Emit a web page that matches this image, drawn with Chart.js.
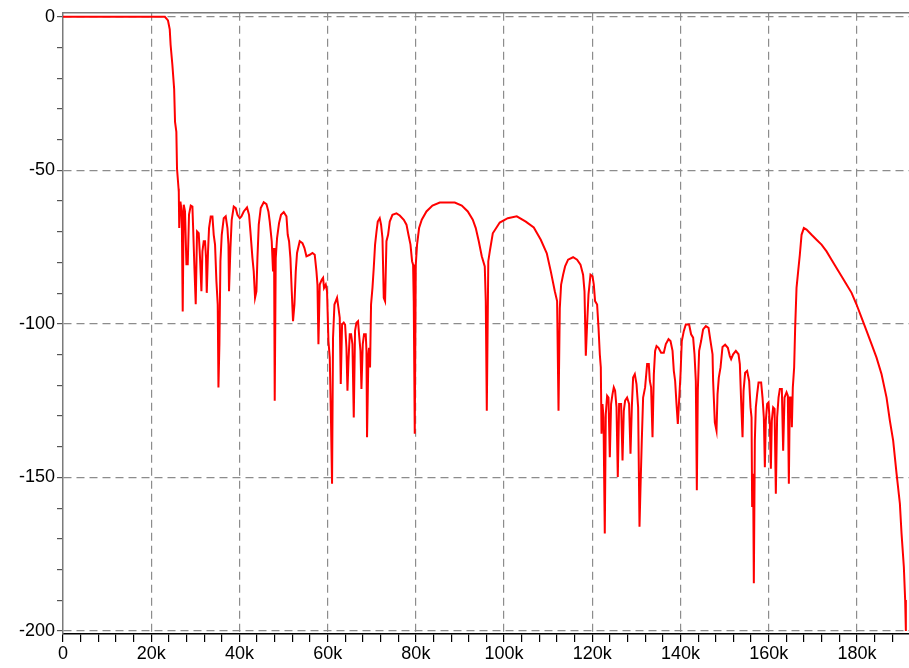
<!DOCTYPE html>
<html lang="en">

<head>
    <meta charset="UTF-8">
    <title>Frequency response</title>
    <script src="https://cdn.jsdelivr.net/npm/chart.js"></script>
    <style>
        html, body { margin: 0; padding: 0; background: #fff; }
        canvas { display: block; }
    </style>
</head>

<body>
    <canvas id="respChart" width="909" height="668"></canvas>
    <script>
        // frequency in kHz
        const freq = [
            0, 22.8, 23.1, 23.8, 24.2, 24.4, 24.8, 25.2, 25.4, 25.7, 25.85, 26.2, 26.25, 26.35, 26.62, 26.92, 27.14, 27.37, 27.66, 27.98,
            28.28, 28.57, 28.96, 29.34, 29.48, 29.8, 30.09, 30.39, 30.77, 31.07, 31.38, 31.61, 31.9, 32.2, 32.43, 32.59, 32.88, 33.11, 33.49, 33.88,
            34.17, 34.47, 34.78, 35.08, 35.24, 35.46, 35.69, 35.99, 36.44, 36.89, 37.28, 37.51, 37.64, 37.96, 38.25, 38.71, 39.16, 39.55, 40.07, 40.45,
            40.98, 41.72, 42.18, 42.49, 42.95, 43.24, 43.54, 43.85, 44.08, 44.38, 44.83, 45.51, 46.12, 46.58, 46.87, 47.32, 47.62, 47.85, 48.0, 48.23,
            48.53, 48.98, 49.43, 50.05, 50.66, 50.95, 51.25, 51.56, 51.86, 52.15, 52.47, 52.77, 53.06, 53.67, 54.29, 54.74, 55.19, 55.94, 56.55, 57.07,
            57.46, 57.69, 57.91, 58.21, 58.66, 58.96, 59.18, 59.57, 59.86, 60.18, 60.48, 60.77, 61.0, 61.22, 61.54, 61.84, 62.13, 62.45, 62.74, 62.97,
            63.27, 63.65, 63.95, 64.26, 64.49, 64.72, 65.01, 65.31, 65.62, 65.92, 66.21, 66.53, 66.89, 67.12, 67.44, 67.66, 67.96, 68.25, 68.64, 68.8,
            68.93, 69.25, 69.39, 69.61, 69.84, 70.16, 70.45, 70.75, 71.07, 71.36, 71.81, 72.11, 72.43, 72.72, 73.02, 73.33, 73.7, 74.08, 74.69, 75.6,
            76.35, 77.26, 77.87, 78.32, 78.78, 79.14, 79.37, 79.52, 79.75, 79.98, 80.27, 80.73, 81.34, 82.4, 83.76, 85.42, 87.69, 88.82, 90.41, 91.77,
            92.9, 93.58, 94.26, 94.94, 95.62, 95.85, 96.08, 96.42, 96.76, 97.44, 99.02, 100.84, 102.88, 104.92, 106.73, 108.32, 109.68, 110.59, 111.5, 112.02,
            112.34, 112.63, 112.93, 113.38, 113.83, 114.51, 115.65, 116.55, 117.32, 117.91, 118.23, 118.53, 118.82, 119.14, 119.59, 120.05, 120.34, 120.63, 121.09, 121.41,
            121.7, 121.93, 122.09, 122.31, 122.54, 122.83, 123.06, 123.36, 123.67, 123.97, 124.26, 124.58, 124.87, 125.17, 125.49, 125.78, 126.08, 126.53, 126.85, 127.14,
            127.44, 127.89, 128.34, 128.66, 128.96, 129.25, 129.64, 130.02, 130.39, 130.7, 130.93, 131.22, 131.52, 131.97, 132.43, 132.81, 133.04, 133.33, 133.65, 133.95,
            134.24, 134.56, 135.01, 135.6, 136.21, 136.67, 137.28, 137.73, 138.19, 138.48, 138.78, 139.09, 139.39, 139.68, 140.0, 140.29, 140.75, 141.2, 141.95, 142.4,
            142.86, 143.17, 143.47, 143.7, 143.92, 144.22, 144.67, 145.12, 145.74, 146.35, 146.8, 147.26, 147.39, 147.78, 148.16, 148.39, 148.68, 149.07, 149.52, 150.11,
            150.73, 151.18, 151.47, 151.93, 152.54, 153.15, 153.45, 153.74, 154.06, 154.29, 154.65, 155.1, 155.56, 155.87, 156.1, 156.24, 156.46, 156.62, 156.85, 157.07,
            157.37, 157.69, 158.28, 158.59, 158.89, 159.12, 159.34, 159.64, 159.95, 160.25, 160.48, 160.7, 161.0, 161.32, 161.61, 161.9, 162.22, 162.52, 162.97, 163.27,
            163.58, 164.04, 164.33, 164.56, 164.78, 165.08, 165.24, 165.46, 165.76, 165.99, 166.3, 166.67, 167.05, 167.44, 167.96, 168.57, 169.71, 170.84, 171.97, 173.11,
            174.24, 175.37, 176.51, 177.64, 178.78, 179.91, 181.04, 182.18, 183.31, 184.44, 185.58, 186.71, 187.46, 188.21, 188.98, 189.73, 190.11, 190.63, 190.93, 191.09
        ];

        // magnitude in dB
        const magDb = [
            0, 0, 0, -1.2, -4.1, -9.2, -15.7, -23.5, -34.2, -37.5, -49.5, -56, -57, -68.8, -60.2, -63.4, -96, -61.2, -63.4, -80.6,
            -80.6, -64.4, -61.5, -61.8, -67.7, -81.9, -93.6, -69.9, -70.5, -78.6, -89.4, -76.4, -73.1, -73.1, -78.6, -89.9, -76.4, -68.8, -65, -65,
            -71, -74.2, -86.1, -93.7, -120.7, -106.6, -79.6, -71, -65.6, -65, -68.8, -74.1, -89.4, -75.3, -66.1, -61.8, -62.3, -64.5, -65.6, -65,
            -63.4, -62.1, -64.5, -69.9, -78.6, -82.9, -91.5, -89.4, -78.6, -67.7, -62.3, -60.4, -61, -63.5, -66.7, -73.1, -82.9, -75.3, -125, -78.6,
            -72.1, -67.2, -64.5, -63.6, -65, -71, -73.1, -78.6, -89.4, -99.1, -93.7, -82.9, -76.9, -73.1, -73.7, -75.3, -78, -77.5, -76.9, -77.5,
            -82.9, -87.2, -106.6, -87.2, -85.6, -85, -88.3, -87.2, -89.4, -105.6, -111, -132.6, -152.1, -104.5, -93.7, -92.6, -91.5, -94.8, -98, -119.6,
            -100.2, -99.6, -100.2, -107.8, -121.8, -112.1, -103.4, -103.4, -106.6, -130.5, -102.3, -99.6, -99.1, -103.4, -108.8, -121.2, -106.6, -103.4, -103.4, -108.8,
            -136.9, -109.9, -107.8, -114.2, -93.7, -88.3, -81.8, -74.2, -70, -66.7, -65.6, -67.7, -72.1, -91.5, -92.6, -73.1, -71, -66.7, -64.5, -64,
            -64.7, -66.1, -67.7, -71, -74.2, -79.6, -80.7, -92.6, -135.8, -80.7, -74.2, -68.8, -66.1, -63.4, -61.5, -60.5, -60.5, -60.5, -61.5, -63.4,
            -66.1, -68.8, -73.1, -78, -81.3, -92.6, -128.3, -79.6, -76.4, -70.5, -67, -65.6, -65, -66.7, -68.6, -72.6, -77, -82.9, -89.4, -92.6,
            -128.3, -94.9, -87.2, -84, -81.3, -79.1, -78.3, -79.1, -80.7, -84, -89.4, -110.4, -100.2, -90.4, -84, -84.5, -87.2, -92.6, -93.7, -101.3,
            -109.9, -114.2, -135.8, -126.1, -130.5, -168.3, -129.4, -123.4, -124, -143.4, -126.1, -122.9, -120.7, -121.8, -127.2, -149.9, -126.1, -126.1, -144.5, -128.3,
            -125, -124, -126.1, -142.3, -127.2, -117.5, -116.4, -119.6, -127.2, -166.1, -153.2, -138, -124, -120.7, -113.1, -113.1, -118.6, -120.7, -136.9, -116.4,
            -108.8, -107.2, -107.8, -109.4, -109.4, -106.6, -105, -105.6, -108.8, -115.3, -118.6, -126.1, -132.6, -125, -116.4, -105.6, -102.3, -100.2, -100.2, -103.4,
            -104.5, -109.9, -118.6, -154.2, -121.8, -108.8, -105.6, -101.8, -100.7, -101.3, -105.6, -109.9, -118.6, -132.1, -134.8, -122.9, -117.5, -114.2, -107.5, -106.8,
            -107.8, -110.5, -111.5, -109.9, -108.8, -109.9, -113.1, -125, -136.9, -121.8, -115.9, -115.3, -118.6, -127.2, -130.5, -159.6, -148.8, -184.5, -138, -127.2,
            -122.9, -119.1, -119.1, -124, -130.5, -146.7, -131.5, -126.1, -125.6, -132.6, -147.2, -131.5, -127.2, -127.7, -155.3, -130.5, -124, -121.2, -121.2, -141.3,
            -124, -122.3, -123.4, -152.1, -124, -124, -133.7, -120.7, -114.2, -101.3, -88.3, -82.9, -77.5, -71, -68.8, -69.3, -71, -72.6, -74.2, -76.4,
            -79.1, -81.8, -84.5, -87.2, -89.9, -93.7, -98, -102.3, -106.6, -111, -116.4, -124, -131.5, -138, -148.8, -158.5, -168.3, -179.1, -189.9, -200
        ];

        // axis ticks: labelled every 20k / 50 dB, minor ticks in between
        const xStep = 4;
        const xLabelEvery = 20;
        const yStep = 10;
        const yLabelEvery = 50;

        const gridGray = '#8c8c8c';
        const points = freq.map((f, i) => ({ x: f, y: magDb[i] }));

        // solid frame line along the top of the plot
        const topFrame = {
            id: 'topFrame',
            afterDraw(chart) {
                const { ctx, chartArea } = chart;
                ctx.save();
                ctx.strokeStyle = '#7a7a7a';
                ctx.lineWidth = 1.5;
                ctx.beginPath();
                ctx.moveTo(chartArea.left, chartArea.top);
                ctx.lineTo(chartArea.right, chartArea.top);
                ctx.stroke();
                ctx.restore();
            }
        };

        const ctx = document.getElementById('respChart').getContext('2d');
        new Chart(ctx, {
            type: 'line',
            data: {
                datasets: [{
                    data: points,
                    borderColor: '#ff0000',
                    borderWidth: 2,
                    pointRadius: 0,
                    tension: 0,
                    fill: false
                }]
            },
            options: {
                responsive: false,
                animation: false,
                layout: { padding: { top: 10, right: 0, left: 0, bottom: 0 } },
                plugins: {
                    legend: { display: false },
                    tooltip: { enabled: false }
                },
                scales: {
                    x: {
                        type: 'linear',
                        min: 0,
                        max: 191.8,
                        afterFit: (scale) => { scale.height = 34; },
                        border: { color: '#000', width: 1.5, dash: [8, 5] },
                        grid: {
                            color: (c) => {
                                const v = Math.round(c.tick.value);
                                return (v !== 0 && v % xLabelEvery === 0) ? gridGray : 'rgba(0,0,0,0)';
                            },
                            tickBorderDash: [],
                            tickColor: '#000',
                            tickLength: 8,
                            lineWidth: 1.2
                        },
                        ticks: {
                            stepSize: xStep,
                            includeBounds: false,
                            autoSkip: false,
                            maxRotation: 0,
                            padding: 1,
                            color: '#000',
                            font: { family: 'Liberation Sans, Arial, sans-serif', size: 18 },
                            callback: (v) => {
                                const r = Math.round(v);
                                if (r % xLabelEvery !== 0) return '';
                                return r === 0 ? '0' : r + 'k';
                            }
                        }
                    },
                    y: {
                        min: -201,
                        max: 1.3,
                        afterFit: (scale) => { scale.width = 63; },
                        border: { color: '#7a7a7a', width: 1.5, dash: [8, 5] },
                        grid: {
                            color: (c) => {
                                const v = Math.round(c.tick.value);
                                return v % yLabelEvery === 0 ? gridGray : 'rgba(0,0,0,0)';
                            },
                            tickBorderDash: [],
                            tickColor: '#555',
                            tickLength: 6,
                            lineWidth: 1.2
                        },
                        ticks: {
                            stepSize: yStep,
                            includeBounds: false,
                            autoSkip: false,
                            padding: 2,
                            color: '#000',
                            font: { family: 'Liberation Sans, Arial, sans-serif', size: 18 },
                            callback: (v) => {
                                const r = Math.round(v);
                                return r % yLabelEvery === 0 ? String(r) : '';
                            }
                        }
                    }
                }
            },
            plugins: [topFrame]
        });
    </script>
</body>

</html>
